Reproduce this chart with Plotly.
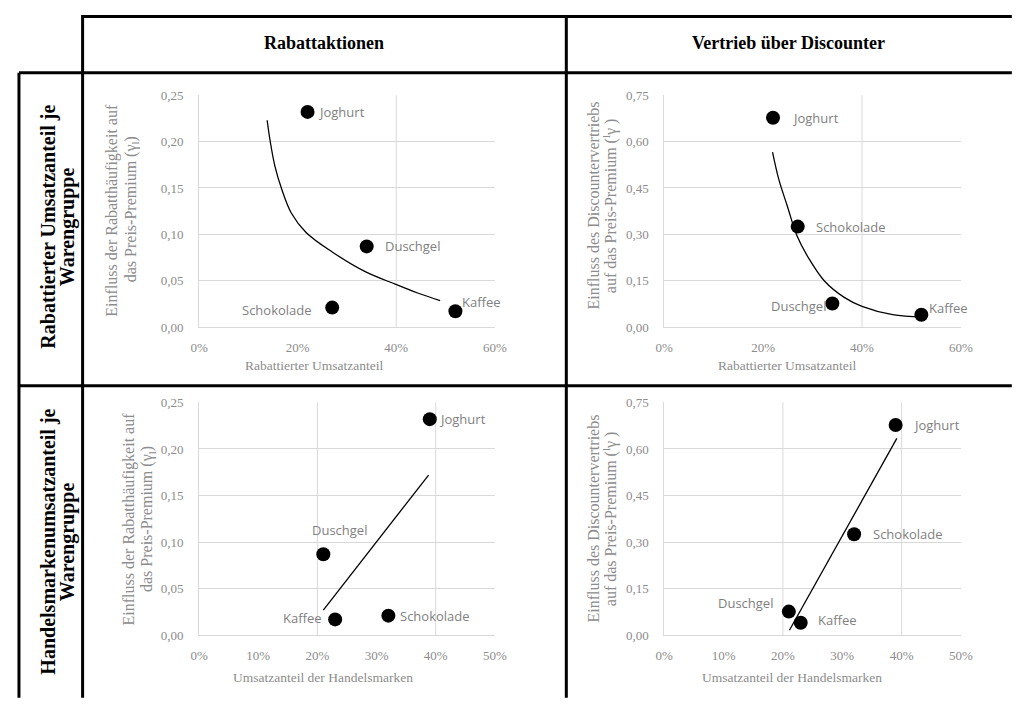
import plotly.graph_objects as go

# ---------------- data ----------------
products = ["Joghurt", "Duschgel", "Schokolade", "Kaffee"]
rabatt_anteil = [0.22, 0.34, 0.27, 0.52]          # Rabattierter Umsatzanteil
handelsmarken_anteil = [0.39, 0.21, 0.32, 0.23]   # Umsatzanteil der Handelsmarken
einfluss_rabatt = [0.232, 0.087, 0.021, 0.017]    # Einfluss der Rabatthäufigkeit
einfluss_discount = [0.677, 0.076, 0.325, 0.040]  # Einfluss des Discountervertriebs

# trend lines
trend1_x = [0.138, 0.144, 0.154, 0.168, 0.187, 0.217, 0.270, 0.336, 0.399, 0.442, 0.489]
trend1_y = [0.223, 0.201, 0.173, 0.148, 0.123, 0.102, 0.081, 0.060, 0.046, 0.037, 0.0285]
trend2_x = [0.219, 0.232, 0.249, 0.268, 0.292, 0.324, 0.364, 0.400, 0.462, 0.522]
trend2_y = [0.566, 0.476, 0.391, 0.297, 0.223, 0.149, 0.096, 0.067, 0.040, 0.032]
trend3_x = [0.210, 0.388]
trend3_y = [0.027, 0.172]
trend4_x = [0.211, 0.392]
trend4_y = [0.016, 0.634]

col_headers = ["Rabattaktionen", "Vertrieb über Discounter"]
row_headers = [["Rabattierter Umsatzanteil je", "Warengruppe"],
               ["Handelsmarkenumsatzanteil je", "Warengruppe"]]
x_titles = ["Rabattierter Umsatzanteil", "Rabattierter Umsatzanteil",
            "Umsatzanteil der Handelsmarken", "Umsatzanteil der Handelsmarken"]
y_title_rabatt = ["Einfluss der Rabatthäufigkeit auf", "das Preis-Premium (γ<sub>l</sub>)"]
y_title_discount = ["Einfluss des Discountervertriebs", "auf das Preis-Premium (<sup>l</sup>γ )"]

# ---------------- style ----------------
# The page keeps the browser's default 8px body margin, so the figure is
# sized to fill the window together with it.
PAGE_MARGIN = 8
W, H = 1024 - 2 * PAGE_MARGIN, 706 - 2 * PAGE_MARGIN
GRAY = "#8c8c8c"
LABEL_GRAY = "#7f7f7f"
GRID = "#d9d9d9"
SERIF = "Liberation Serif, Times New Roman, serif"
SANS = "Open Sans, sans-serif"


def px(x):
    return (x - PAGE_MARGIN) / W


def py(y):
    return 1 - (y - PAGE_MARGIN) / H


fig = go.Figure()

panels = [
    (rabatt_anteil, einfluss_rabatt, trend1_x, trend1_y, ""),
    (rabatt_anteil, einfluss_discount, trend2_x, trend2_y, "2"),
    (handelsmarken_anteil, einfluss_rabatt, trend3_x, trend3_y, "3"),
    (handelsmarken_anteil, einfluss_discount, trend4_x, trend4_y, "4"),
]

for xs, ys, tx, ty, s in panels:
    fig.add_trace(go.Scatter(x=tx, y=ty, mode="lines",
                             line=dict(color="black", width=1.3, shape="spline"),
                             xaxis="x" + s, yaxis="y" + s, showlegend=False,
                             hoverinfo="skip"))
    fig.add_trace(go.Scatter(x=xs, y=ys, mode="markers",
                             marker=dict(color="black", size=14),
                             xaxis="x" + s, yaxis="y" + s, showlegend=False,
                             text=products))

# label offsets (pixels) per panel: (xanchor, xshift, yshift)
label_offsets = [
    {"Joghurt": ("left", 8, 0), "Duschgel": ("left", 16, 0),
     "Schokolade": ("right", -18, -2), "Kaffee": ("left", 5, 9)},
    {"Joghurt": ("left", 17, 0), "Schokolade": ("left", 16, 0),
     "Duschgel": ("right", -4, -2), "Kaffee": ("left", 6, 7)},
    {"Joghurt": ("left", 7, 0), "Duschgel": ("center", 16, 24),
     "Kaffee": ("right", -11, 1), "Schokolade": ("left", 10, 0)},
    {"Joghurt": ("left", 15, 0), "Schokolade": ("left", 17, 0),
     "Duschgel": ("right", -14, 9), "Kaffee": ("left", 15, 3)},
]

annotations = []
for (xs, ys, tx, ty, s), offs in zip(panels, label_offsets):
    for name, xv, yv in zip(products, xs, ys):
        anc, xsh, ysh = offs[name]
        annotations.append(dict(x=xv, y=yv, xref="x" + s, yref="y" + s,
                                text=name, showarrow=False, xanchor=anc,
                                yanchor="middle", xshift=xsh, yshift=ysh,
                                font=dict(family=SANS, size=13, color=LABEL_GRAY)))

# headers
for txt, cx in zip(col_headers, [322, 796]):
    annotations.append(dict(x=px(cx), y=py(37), xref="paper", yref="paper",
                            text="<b>" + txt + "</b>", showarrow=False,
                            xanchor="center", yanchor="middle",
                            font=dict(family=SERIF, size=18, color="black")))
for lines, cy in zip(row_headers, [224, 546]):
    for txt, cx in zip(lines, [40, 59]):
        annotations.append(dict(x=px(cx), y=py(cy), xref="paper", yref="paper",
                                text="<b>" + txt + "</b>", showarrow=False,
                                textangle=-90, xanchor="center", yanchor="middle",
                                font=dict(family=SERIF, size=20, color="black")))

# axis titles
for txt, cx, cy in zip(x_titles, [312, 795, 321, 799], [366, 366, 685, 685]):
    annotations.append(dict(x=px(cx), y=py(cy), xref="paper", yref="paper",
                            text=txt, showarrow=False, xanchor="center",
                            yanchor="middle",
                            font=dict(family=SERIF, size=13.5, color=GRAY)))
y_title_specs = [
    (y_title_rabatt, [105, 125], 207),
    (y_title_discount, [597, 614], 203),
    (y_title_rabatt, [122, 142], 523),
    (y_title_discount, [597, 614], 523),
]
for lines, xs_, cy in y_title_specs:
    for txt, cx in zip(lines, xs_):
        annotations.append(dict(x=px(cx), y=py(cy), xref="paper", yref="paper",
                                text=txt, showarrow=False, textangle=-90,
                                xanchor="center", yanchor="middle",
                                font=dict(family=SERIF, size=16, color=GRAY)))

# table lines
shapes = []
table_lines = [
    (75, 9.5, 1024, 9.5), (10, 67, 1024, 67), (10, 387, 1024, 387),
    (10, 67, 10, 706), (75, 8, 75, 706), (569, 8, 569, 706),
]
for x0, y0, x1, y1 in table_lines:
    shapes.append(dict(type="line", xref="paper", yref="paper",
                       x0=px(x0), y0=py(y0), x1=px(x1), y1=py(y1),
                       line=dict(color="black", width=3)))

# vertical gridlines (every second label)
grid_x = {"": [0.4], "2": [0.4], "3": [0.2, 0.4], "4": [0.2, 0.4]}
for s, vals in grid_x.items():
    for v in vals:
        shapes.append(dict(type="line", xref="x" + s, yref="y" + s + " domain",
                           x0=v, x1=v, y0=0, y1=1, layer="below",
                           line=dict(color=GRID, width=1)))

tickfont = dict(family=SERIF, size=13, color=GRAY)


def xax(dom, rng, dtick):
    return dict(domain=dom, range=rng, dtick=dtick, tick0=0, tickformat=".0%",
                showgrid=False, zeroline=False, showline=True, linecolor=GRID,
                linewidth=1, ticks="", tickfont=tickfont, ticklabelstandoff=8,
                fixedrange=True)


def yax(dom, rng, dtick, anchor):
    return dict(domain=dom, range=rng, dtick=dtick, tick0=0, tickformat=".2f",
                showgrid=True, gridcolor=GRID, gridwidth=1, zeroline=False,
                showline=True, linecolor=GRID, linewidth=1, ticks="",
                tickfont=tickfont, ticklabelstandoff=12, anchor=anchor,
                fixedrange=True)


xd_left = [px(194), px(496)]
xd_right = [px(669), px(972)]
yd_top = [py(327), py(90)]
yd_bot = [py(642), py(404)]

fig.update_layout(
    width=W, height=H, autosize=False,
    margin=dict(l=0, r=0, t=0, b=0),
    paper_bgcolor="white", plot_bgcolor="white",
    separators=",.",
    showlegend=False,
    xaxis=dict(xax(xd_left, [0, 0.6], 0.2), anchor="y"),
    yaxis=yax(yd_top, [0, 0.25], 0.05, "x"),
    xaxis2=dict(xax(xd_right, [0, 0.6], 0.2), anchor="y2"),
    yaxis2=yax(yd_top, [0, 0.75], 0.15, "x2"),
    xaxis3=dict(xax(xd_left, [0, 0.5], 0.1), anchor="y3"),
    yaxis3=yax(yd_bot, [0, 0.25], 0.05, "x3"),
    xaxis4=dict(xax(xd_right, [0, 0.5], 0.1), anchor="y4"),
    yaxis4=yax(yd_bot, [0, 0.75], 0.15, "x4"),
    annotations=annotations,
    shapes=shapes,
)

fig.write_html("out.html", config={"displayModeBar": False})
